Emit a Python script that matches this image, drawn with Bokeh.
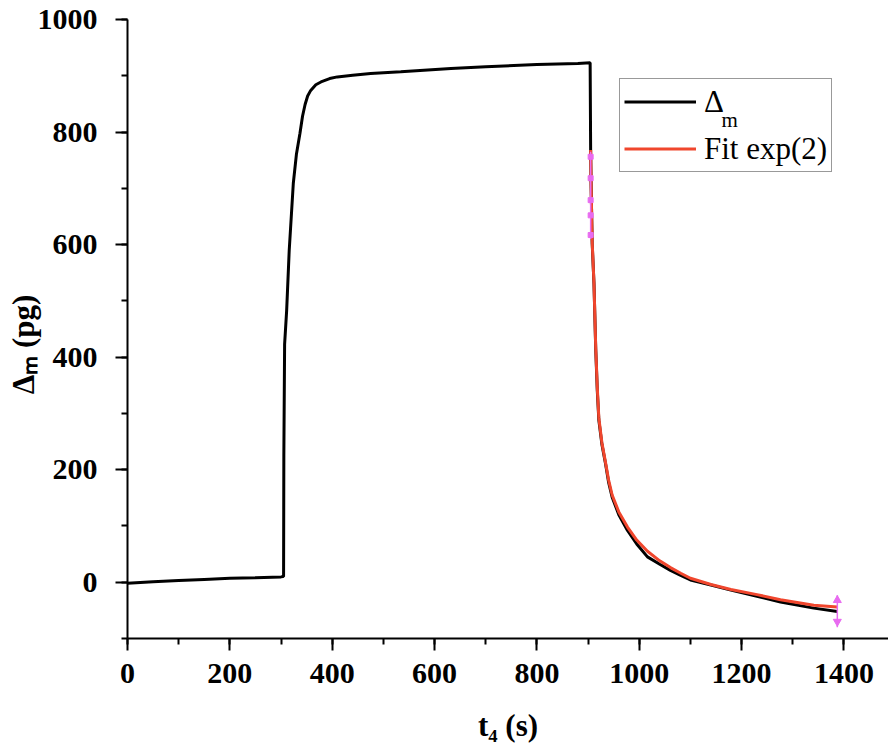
from bokeh.plotting import figure
from bokeh.models import Range1d, SingleIntervalTicker, Label, Legend, LegendItem
from bokeh.embed import file_html
from bokeh.resources import INLINE

# measured mass change (black)
t_meas = [0, 50, 100, 150, 200, 250, 300, 304, 305, 305.5, 307, 311, 316, 324, 330, 337, 342, 347,
          352, 358, 368, 378, 395, 410, 440, 475, 534, 632, 700, 800, 880, 904,
          905, 906, 908, 911.5, 915, 918, 921, 927, 934, 940, 947, 960, 977, 995, 1016,
          1040, 1061, 1081, 1100, 1140, 1179, 1230, 1276, 1341, 1387]
dm_meas = [-2, 1, 3, 5, 7, 8, 9.5, 10, 10, 226, 423, 483, 590, 709, 760, 798, 828, 849,
           864, 874, 884, 889, 895, 898, 901, 904, 907, 913, 916, 920, 922, 923,
           768, 700, 602, 531, 412, 340, 288, 245, 211, 178, 151, 120, 92, 68, 45,
           32, 21, 12, 4, -5, -14, -25, -35, -46, -52]

# double-exponential fit (red)
t_fit = [905, 906, 908, 911.5, 915, 918, 921, 927, 934, 940, 947, 960, 977, 995, 1016,
         1040, 1061, 1081, 1100, 1140, 1179, 1230, 1276, 1341, 1387]
dm_fit = [768, 700, 605, 531, 415, 345, 292, 248, 213, 182, 155, 125, 98, 75, 55,
          38, 26, 16, 7, -4, -13, -22, -31, -41, -44]

# fit-range markers (magenta)
sel_start_t = [905, 905, 905, 905, 905]
sel_start_v = [756, 718, 679, 652, 617]
sel_seg_t = [905, 1387]
sel_seg_v0 = [765, -23]
sel_seg_v1 = [610, -80]
sel_end_t = [1387]
sel_end_up = [-32]
sel_end_dn = [-70]

x_start, x_end = 0, 1487
y_start, y_end = -100, 1000
tick_interval = 200

FONT = "Liberation Serif"

p = figure(width=888, height=751, output_backend="svg", toolbar_location=None,
           x_range=Range1d(x_start, x_end), y_range=Range1d(y_start, y_end),
           min_border_left=127, min_border_right=0, min_border_top=19, min_border_bottom=113)
p.outline_line_color = None
p.grid.visible = False
p.background_fill_color = "white"
p.border_fill_color = "white"

for ax in (p.xaxis[0], p.yaxis[0]):
    ax.ticker = SingleIntervalTicker(interval=tick_interval, num_minor_ticks=2)
    ax.axis_line_width = 2
    ax.axis_line_color = "black"
    ax.major_tick_line_width = 2
    ax.minor_tick_line_width = 2
    ax.major_tick_in = 0
    ax.major_tick_out = 12
    ax.minor_tick_in = 0
    ax.minor_tick_out = 6
    ax.major_label_text_font = FONT
    ax.major_label_text_font_style = "bold"
    ax.major_label_text_font_size = "30px"
    ax.major_label_text_color = "black"
    ax.axis_label_text_font = FONT
    ax.axis_label_text_font_style = "bold"
    ax.axis_label_text_font_size = "31px"
    ax.axis_label_text_color = "black"
p.yaxis[0].major_label_standoff = 18
p.xaxis[0].major_label_standoff = 13

p.xaxis[0].axis_label = "t\u2084 (s)"
p.xaxis[0].axis_label_standoff = 22
p.yaxis[0].axis_label = "\u0394\u2098 (pg)\u00a0\u00a0\u00a0\u00a0"
p.yaxis[0].axis_label_standoff = -6

r1 = p.line(t_meas, dm_meas, line_color="black", line_width=3)
r2 = p.line(t_fit, dm_fit, line_color="#F0462D", line_width=3)

p.segment(x0=sel_seg_t, y0=sel_seg_v0, x1=sel_seg_t, y1=sel_seg_v1,
          line_color="#E86BF0", line_width=1.5)
p.scatter(sel_start_t, sel_start_v, marker="square", size=5, color="#E86BF0")
p.scatter(sel_end_t, sel_end_up, marker="triangle", size=8, color="#E86BF0")
p.scatter(sel_end_t, sel_end_dn, marker="inverted_triangle", size=8, color="#E86BF0")

legend = Legend(items=[LegendItem(label="Δ", renderers=[r1]),
                       LegendItem(label="Fit exp(2)", renderers=[r2])],
                location=(492, 466))
legend.label_text_font = FONT
legend.label_text_font_size = "31px"
legend.label_text_color = "black"
legend.glyph_width = 72
legend.glyph_height = 37
legend.label_height = 37
legend.label_standoff = 8
legend.spacing = 10
legend.padding = 4
legend.margin = 0
legend.border_line_color = "#333333"
legend.border_line_width = 1.5
legend.background_fill_alpha = 0.0
p.add_layout(legend)

# subscript of the legend's Delta
p.add_layout(Label(x=594, y=519, x_units="screen", y_units="screen", text="m",
                   text_font=FONT, text_font_size="21px", text_color="black",
                   text_align="left", text_baseline="alphabetic", level="overlay"))

open("out.html", "w").write(file_html(p, INLINE))
